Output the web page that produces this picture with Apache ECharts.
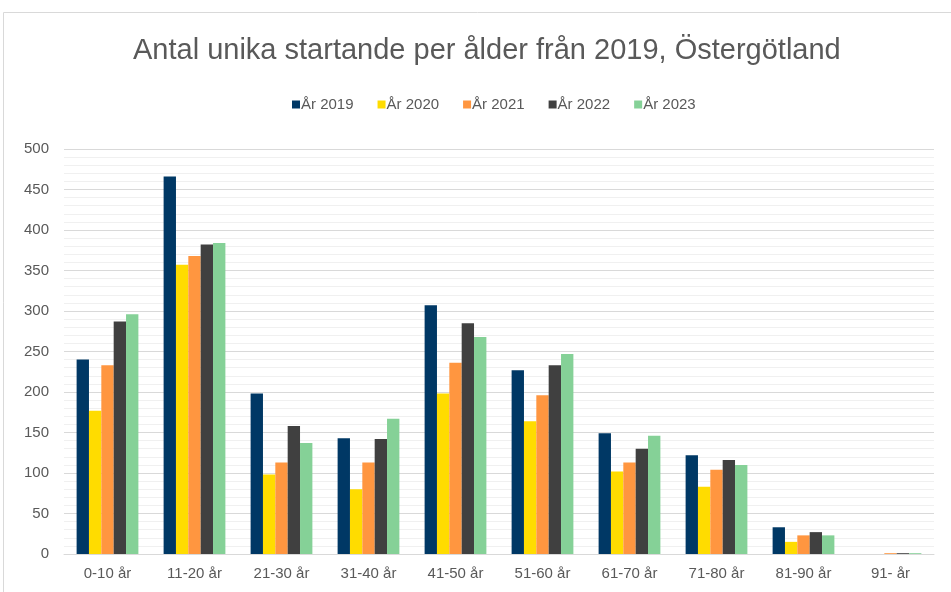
<!DOCTYPE html>
<html>
<head>
<meta charset="utf-8">
<script src="https://cdn.jsdelivr.net/npm/echarts@6/dist/echarts.min.js"></script>
<style>
  html, body { margin: 0; padding: 0; background: #fff; }
  #chart { width: 951px; height: 592px; }
</style>
</head>
<body>
<div id="chart"></div>
<script>
const categories = ["0-10 år", "11-20 år", "21-30 år", "31-40 år", "41-50 år", "51-60 år", "61-70 år", "71-80 år", "81-90 år", "91- år"];
const seriesNames = ["År 2019", "År 2020", "År 2021", "År 2022", "År 2023"];
const values2019 = [240, 466, 198, 143, 307, 227, 149, 122, 33, 0];
const values2020 = [177, 357, 98, 80, 198, 164, 102, 83, 15, 0];
const values2021 = [233, 368, 113, 113, 236, 196, 113, 104, 23, 1];
const values2022 = [287, 382, 158, 142, 285, 233, 130, 116, 27, 1];
const values2023 = [296, 384, 137, 167, 268, 247, 146, 110, 23, 1];
const colors = ["#003865", "#FFDC00", "#FF9640", "#404040", "#85D197"];

const allValues = [values2019, values2020, values2021, values2022, values2023];

const chart = echarts.init(document.getElementById("chart"));

chart.setOption({
  animation: false,
  textStyle: { fontFamily: "Liberation Sans, Arial, sans-serif" },
  graphic: [{
    type: "rect",
    shape: { x: 3.5, y: 12.5, width: 1000, height: 700 },
    style: { fill: "none", stroke: "#d9d9d9", lineWidth: 1 },
    silent: true,
  }],
  title: {
    text: "Antal unika startande per ålder från 2019, Östergötland",
    left: 128,
    top: 31,
    textStyle: { fontSize: 29, fontWeight: "normal", color: "#595959" },
  },
  legend: {
    data: seriesNames,
    top: 92,
    left: 287,
    itemWidth: 8,
    itemHeight: 8,
    itemGap: 24,
    icon: "rect",
    textStyle: { fontSize: 15, color: "#595959", padding: [0, 0, 0, -4] },
  },
  grid: { left: 64, right: 17, top: 149, bottom: 38 },
  xAxis: {
    type: "category",
    data: categories,
    axisTick: { show: false },
    axisLine: { lineStyle: { color: "#d9d9d9" } },
    axisLabel: { color: "#595959", fontSize: 15, margin: 12 },
  },
  yAxis: {
    type: "value",
    min: 0,
    max: 500,
    interval: 50,
    axisLine: { show: false },
    axisTick: { show: false },
    axisLabel: { color: "#595959", fontSize: 15, margin: 15 },
    splitLine: { lineStyle: { color: "#d9d9d9", width: 1 } },
    minorTick: { show: false, splitNumber: 5 },
    minorSplitLine: { show: true, lineStyle: { color: "#f0f0f0", width: 1 } },
  },
  series: seriesNames.map((name, i) => ({
    name,
    type: "bar",
    data: allValues[i],
    barGap: "0%",
    barCategoryGap: "29%",
    itemStyle: { color: colors[i] },
  })),
});
</script>
</body>
</html>
